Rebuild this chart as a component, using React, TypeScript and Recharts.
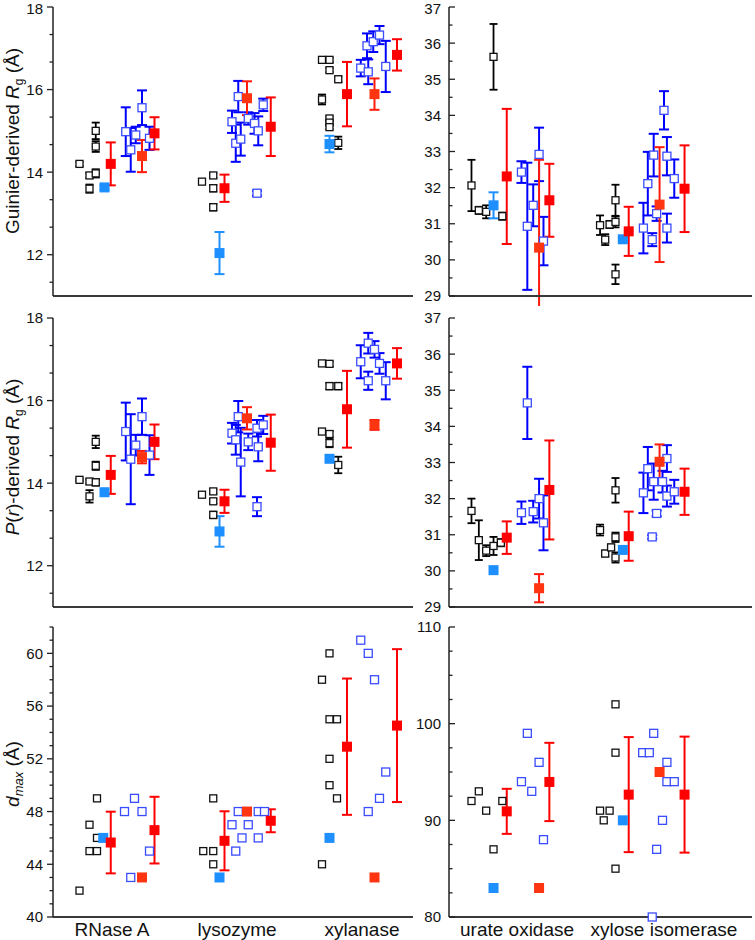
import React from "react";
import { ScatterChart, Scatter, XAxis, YAxis, ErrorBar } from "recharts";

const FONT = '"Liberation Sans", Arial, sans-serif';

const smallProteins = ["RNase A", "lysozyme", "xylanase"];
const largeProteins = ["urate oxidase", "xylose isomerase"];

// every point: [x slot (category number + jitter), value, error]

// --- Guinier Rg, small proteins
const guinierSmallBlack = [
  [0.74, 14.2, 0.05], [0.82, 13.92, 0.06], [0.82, 13.6, 0.1], [0.87, 15.0, 0.2], [0.87, 14.62, 0.13], [0.87, 13.97, 0.1],
  [1.72, 13.77, 0.06], [1.81, 13.92, 0.06], [1.81, 13.61, 0.08], [1.81, 13.15, 0.08],
  [2.68, 16.72, 0.05], [2.74, 16.72, 0.05], [2.74, 16.47, 0.05], [2.81, 16.25, 0.07], [2.68, 15.76, 0.12],
  [2.74, 15.3, 0.05], [2.74, 15.2, 0.05], [2.74, 15.09, 0.05], [2.81, 14.71, 0.15],
];
const guinierSmallSky = [[0.94, 13.63, 0.05], [1.86, 12.04, 0.51], [2.74, 14.68, 0.2]];
const guinierSmallMean1 = [[0.99, 14.2, 0.52], [1.9, 13.61, 0.33], [2.88, 15.89, 0.78]];
const guinierSmallBlue = [
  [1.11, 14.98, 0.59], [1.15, 14.54, 0.53], [1.19, 14.9, 0.2], [1.24, 15.56, 0.42], [1.3, 14.82, 0.28],
  [1.96, 15.22, 0.27], [1.99, 14.7, 0.45], [2.01, 15.83, 0.38], [2.03, 14.8, 0.4], [2.09, 15.3, 0.15],
  [2.14, 15.18, 0.25], [2.17, 15.0, 0.35], [2.21, 15.63, 0.15], [2.16, 13.49, 0.06],
  [2.99, 16.52, 0.2], [3.05, 16.43, 0.3], [3.04, 17.06, 0.3], [3.09, 17.16, 0.25], [3.14, 17.32, 0.22], [3.19, 16.56, 0.62],
];
const guinierSmallOrange = [[1.24, 14.39, 0.39], [2.08, 15.79, 0.41], [3.1, 15.89, 0.38]];
const guinierSmallMean2 = [[1.34, 14.94, 0.39], [2.27, 15.1, 0.71], [3.28, 16.84, 0.38]];

// --- Guinier Rg, large proteins
const guinierLargeBlack = [
  [0.69, 32.06, 0.71], [0.74, 31.37, 0.1], [0.79, 31.33, 0.18], [0.84, 35.62, 0.91], [0.9, 31.21, 0.1],
  [1.565, 30.96, 0.27], [1.6, 30.56, 0.15], [1.63, 30.98, 0.1], [1.67, 31.65, 0.43], [1.67, 31.05, 0.15], [1.67, 29.6, 0.27],
];
const guinierLargeSky = [[0.84, 31.51, 0.36], [1.72, 30.57, 0.05]];
const guinierLargeMean1 = [[0.93, 32.31, 1.87], [1.76, 30.79, 0.68]];
const guinierLargeBlue = [
  [1.03, 32.43, 0.3], [1.07, 30.93, 1.76], [1.11, 31.51, 0.58], [1.15, 32.92, 0.74], [1.18, 30.52, 0.67],
  [1.86, 30.88, 0.7], [1.89, 32.11, 0.88], [1.92, 30.56, 0.18], [1.93, 32.9, 0.59], [1.95, 31.28, 0.2],
  [2.0, 34.14, 0.53], [2.02, 30.88, 0.4], [2.02, 32.87, 0.53], [2.07, 32.25, 0.53],
];
const guinierLargeOrange = [[1.15, 30.34, 2.43], [1.97, 31.53, 1.59]];
const guinierLargeMean2 = [[1.22, 31.65, 1.01], [2.14, 31.97, 1.2]];

// --- P(r) Rg, small proteins
const prSmallBlack = [
  [0.74, 14.08, 0.03], [0.82, 14.04, 0.05], [0.82, 13.68, 0.15], [0.87, 15.0, 0.15], [0.87, 14.42, 0.1], [0.87, 14.02, 0.08],
  [1.72, 13.72, 0.06], [1.81, 13.8, 0.05], [1.81, 13.56, 0.05], [1.81, 13.23, 0.08],
  [2.68, 16.9, 0.05], [2.74, 16.89, 0.06], [2.74, 16.35, 0.08], [2.81, 16.35, 0.08], [2.68, 15.25, 0.06],
  [2.74, 15.19, 0.07], [2.74, 14.97, 0.1], [2.81, 14.44, 0.2],
];
const prSmallSky = [[0.94, 13.78, 0], [1.86, 12.83, 0.37], [2.74, 14.59, 0]];
const prSmallMean1 = [[0.99, 14.2, 0.46], [1.9, 13.56, 0.28], [2.88, 15.79, 0.93]];
const prSmallBlue = [
  [1.11, 15.25, 0.7], [1.15, 14.58, 1.09], [1.19, 14.92, 0.25], [1.24, 15.61, 0.44], [1.3, 14.68, 0.48],
  [1.96, 15.21, 0.25], [1.99, 15.05, 0.36], [2.01, 15.61, 0.38], [2.03, 14.51, 0.83], [2.09, 15.0, 0.2],
  [2.16, 15.33, 0.2], [2.17, 14.88, 0.35], [2.21, 15.41, 0.22], [2.16, 13.43, 0.23],
  [2.99, 16.94, 0.4], [3.05, 17.39, 0.25], [3.05, 16.48, 0.22], [3.1, 17.24, 0.2], [3.14, 16.9, 0.25], [3.19, 16.48, 0.45],
];
const prSmallOrange = [[1.24, 14.63, 0.15], [2.08, 15.57, 0.27], [3.1, 15.41, 0.12]];
const prSmallMean2 = [[1.34, 15.0, 0.42], [2.27, 14.98, 0.68], [3.28, 16.9, 0.37]];

// --- P(r) Rg, large proteins
const prLargeBlack = [
  [0.69, 31.66, 0.34], [0.74, 30.85, 0.55], [0.79, 30.56, 0.15], [0.84, 30.69, 0.25], [0.89, 30.78, 0.1],
  [1.565, 31.13, 0.15], [1.6, 30.48, 0.08], [1.64, 30.65, 0.08], [1.67, 32.23, 0.34], [1.67, 30.93, 0.13], [1.67, 30.37, 0.14],
];
const prLargeSky = [[0.84, 30.02, 0], [1.72, 30.58, 0]];
const prLargeMean1 = [[0.93, 30.92, 0.45], [1.76, 30.96, 0.68]];
const prLargeBlue = [
  [1.03, 31.61, 0.31], [1.07, 34.65, 1.0], [1.11, 31.64, 0.3], [1.15, 32.0, 0.55], [1.18, 31.33, 0.76],
  [1.86, 32.16, 0.56], [1.89, 32.83, 0.6], [1.92, 30.94, 0.05], [1.93, 32.47, 0.5], [1.95, 31.59, 0.08],
  [1.99, 32.47, 0.3], [2.02, 33.11, 0.37], [2.02, 32.07, 0.29], [2.07, 32.19, 0.33],
];
const prLargeOrange = [[1.15, 29.52, 0.39], [1.97, 33.02, 0.48]];
const prLargeMean2 = [[1.22, 32.24, 1.37], [2.14, 32.19, 0.64]];

// --- dmax, small proteins
const dmaxSmallBlack = [
  [0.74, 42], [0.82, 45], [0.82, 47], [0.88, 45], [0.88, 46], [0.88, 49],
  [1.73, 45], [1.81, 45], [1.81, 44], [1.81, 49],
  [2.68, 58], [2.74, 60], [2.74, 55], [2.8, 55], [2.74, 52], [2.74, 50], [2.8, 49], [2.68, 44],
];
const dmaxSmallSky = [[0.93, 46], [1.86, 43], [2.74, 46]];
const dmaxSmallMean1 = [[0.99, 45.65, 2.34], [1.9, 45.78, 2.24], [2.88, 52.92, 5.17]];
const dmaxSmallBlue = [
  [1.1, 48], [1.15, 43], [1.18, 49], [1.24, 48], [1.3, 45],
  [1.96, 47], [1.99, 45], [2.01, 48], [2.04, 46], [2.09, 47], [2.17, 48], [2.17, 46], [2.22, 48],
  [2.99, 61], [3.05, 60], [3.1, 58], [3.19, 51], [3.14, 49], [3.05, 48],
];
const dmaxSmallOrange = [[1.24, 43], [2.08, 48], [3.1, 43]];
const dmaxSmallMean2 = [[1.34, 46.59, 2.53], [2.27, 47.3, 0.87], [3.28, 54.52, 5.8]];

// --- dmax, large proteins
const dmaxLargeBlack = [
  [0.69, 92], [0.74, 93], [0.79, 91], [0.84, 87], [0.9, 92],
  [1.565, 91], [1.59, 90], [1.63, 91], [1.67, 102], [1.67, 97], [1.67, 85],
];
const dmaxLargeSky = [[0.84, 83], [1.72, 90]];
const dmaxLargeMean1 = [[0.93, 90.93, 2.33], [1.76, 92.66, 5.95]];
const dmaxLargeBlue = [
  [1.03, 94], [1.07, 99], [1.1, 93], [1.15, 96], [1.18, 88],
  [1.855, 97], [1.9, 97], [1.93, 99], [1.95, 87], [1.99, 90], [2.02, 96], [2.02, 94], [2.07, 94], [1.92, 80],
];
const dmaxLargeOrange = [[1.15, 83], [1.97, 95]];
const dmaxLargeMean2 = [[1.22, 93.97, 4.05], [2.14, 92.66, 6.0]];

const STYLES: Record<string, any> = {
  black: { size: 7, fill: "#fff", stroke: "#111", sw: 1.3, bar: "#000", cap: 4, bw: 1.8 },
  blue: { size: 8, fill: "#fff", stroke: "#3a4cff", sw: 1.3, bar: "#0000ff", cap: 5, bw: 2 },
  sky: { size: 10, fill: "#1e8fff", stroke: "#1e8fff", sw: 0, bar: "#1e90ff", cap: 5, bw: 2 },
  orange: { size: 10, fill: "#ff3512", stroke: "#ff3512", sw: 0, bar: "#ff1a0a", cap: 5, bw: 2 },
  mean: { size: 10, fill: "#ff0000", stroke: "#ff0000", sw: 0, bar: "#ff0000", cap: 5, bw: 2 },
};

const rows = (pts: number[][]) => pts.map(([x, y, e]) => ({ x, y, e: e ?? 0 }));

const square = (st: any) => (props: any) => {
  const { cx, cy } = props;
  if (cx == null || cy == null) return <g />;
  const h = st.size / 2;
  return <rect x={cx - h} y={cy - h} width={st.size} height={st.size} fill={st.fill} stroke={st.sw ? st.stroke : "none"} strokeWidth={st.sw} />;
};

const range = (a: number, b: number, step: number) => {
  const out: number[] = [];
  for (let v = a; v <= b + 1e-9; v += step) out.push(Math.round(v * 1000) / 1000);
  return out;
};

function Panel(props: any) {
  const { left, top, width, height, marginTop, yWidth, right, bottomH, xDomain, yDomain, ticks, majors, inward, gap, cats, showCats, series, clip } = props;
  const yTick = (p: any) => {
    const v = p.payload.value;
    const major = majors.some((m: number) => Math.abs(m - v) < 1e-6);
    const len = major ? 6 : 3.5;
    // keep the top label inside the page
    const ty = Math.max(p.y, 9);
    return (
      <g>
        <line x1={p.x} y1={p.y} x2={inward ? p.x + len : p.x - len} y2={p.y} stroke="#222" strokeWidth={1.3} />
        {major && (
          <text x={p.x - gap} y={ty} dy="0.36em" textAnchor="end" fontSize={15} fontFamily={FONT} fill="#111">
            {v}
          </text>
        )}
      </g>
    );
  };
  const catTick = (p: any) => (
    <text x={p.x} y={p.y} dy="0.71em" textAnchor="middle" fontSize={19} fontFamily={FONT} fill="#111">
      {cats[Math.round(p.payload.value) - 1]}
    </text>
  );
  return (
    <div style={{ position: "absolute", left, top }}>
      <ScatterChart width={width} height={height} margin={{ top: marginTop, right, left: 0, bottom: 0 }}>
        <XAxis
          type="number"
          dataKey="x"
          domain={xDomain}
          ticks={cats.map((_: string, i: number) => i + 1)}
          interval={0}
          tick={showCats ? catTick : false}
          tickLine={false}
          tickSize={0}
          tickMargin={6}
          height={bottomH}
          axisLine={{ stroke: "#3a3a3a", strokeWidth: 2 }}
        />
        <YAxis
          type="number"
          dataKey="y"
          domain={yDomain}
          allowDataOverflow={clip}
          ticks={ticks}
          interval={0}
          tick={yTick}
          tickLine={false}
          tickSize={0}
          tickMargin={0}
          width={yWidth}
          axisLine={{ stroke: "#222", strokeWidth: 1.5 }}
        />
        {series.map((s: any, i: number) => {
          const st = STYLES[s.kind];
          const hasErr = s.pts.some((p: number[]) => p.length > 2);
          return (
            <Scatter key={i} data={rows(s.pts)} shape={square(st)} isAnimationActive={false}>
              {hasErr && (
                <ErrorBar dataKey="e" direction="y" width={st.cap} stroke={st.bar} strokeWidth={st.bw} isAnimationActive={false} />
              )}
            </Scatter>
          );
        })}
      </ScatterChart>
    </div>
  );
}

const group = (black: any, blue: any, sky: any, orange: any, mean1: any, mean2: any) => [
  { kind: "black", pts: black },
  { kind: "blue", pts: blue },
  { kind: "sky", pts: sky },
  { kind: "orange", pts: orange },
  { kind: "mean", pts: mean1 },
  { kind: "mean", pts: mean2 },
];

const rgSmallTicks = [11.333, 12, 12.667, 13.333, 14, 14.667, 15.333, 16, 16.667, 17.333, 18];
const rgSmallMajors = [12, 14, 16, 18];
const rgLargeTicks = range(29, 37, 0.5);
const rgLargeMajors = range(29, 37, 1);
const dmaxSmallTicks = range(40, 62, 1);
const dmaxSmallMajors = range(40, 60, 4);
const dmaxLargeTicks = range(80, 110, 2.5);
const dmaxLargeMajors = range(80, 110, 10);

const LEFT = { left: 0, width: 420, yWidth: 53, right: 7, xDomain: [0.528, 3.408], inward: false, gap: 10, cats: smallProteins };
const RIGHT = { left: 413, width: 342, yWidth: 36, right: 3, xDomain: [0.537, 2.599], inward: true, gap: 8, cats: largeProteins };

export default function App() {
  return (
    <div style={{ position: "absolute", left: 0, top: 0, width: 755, height: 940, background: "#fff" }}>
      <Panel {...LEFT} top={0} marginTop={7} height={306} bottomH={10} yDomain={[11, 18]} ticks={rgSmallTicks} majors={rgSmallMajors} clip
        series={group(guinierSmallBlack, guinierSmallBlue, guinierSmallSky, guinierSmallOrange, guinierSmallMean1, guinierSmallMean2)} />
      <Panel {...RIGHT} top={0} marginTop={7} height={306} bottomH={10} yDomain={[29, 37]} ticks={rgLargeTicks} majors={rgLargeMajors} clip
        series={group(guinierLargeBlack, guinierLargeBlue, guinierLargeSky, guinierLargeOrange, guinierLargeMean1, guinierLargeMean2)} />
      <Panel {...LEFT} top={305} marginTop={13} height={312} bottomH={10} yDomain={[11, 18]} ticks={rgSmallTicks} majors={rgSmallMajors} clip
        series={group(prSmallBlack, prSmallBlue, prSmallSky, prSmallOrange, prSmallMean1, prSmallMean2)} />
      <Panel {...RIGHT} top={305} marginTop={13} height={312} bottomH={10} yDomain={[29, 37]} ticks={rgLargeTicks} majors={rgLargeMajors} clip
        series={group(prLargeBlack, prLargeBlue, prLargeSky, prLargeOrange, prLargeMean1, prLargeMean2)} />
      <Panel {...LEFT} top={614} marginTop={13} height={326} bottomH={23} yDomain={[40, 62]} ticks={dmaxSmallTicks} majors={dmaxSmallMajors} clip={false} showCats
        series={group(dmaxSmallBlack, dmaxSmallBlue, dmaxSmallSky, dmaxSmallOrange, dmaxSmallMean1, dmaxSmallMean2)} />
      <Panel {...RIGHT} top={614} marginTop={13} height={326} bottomH={23} yDomain={[80, 110]} ticks={dmaxLargeTicks} majors={dmaxLargeMajors} clip={false} showCats
        series={group(dmaxLargeBlack, dmaxLargeBlue, dmaxLargeSky, dmaxLargeOrange, dmaxLargeMean1, dmaxLargeMean2)} />
      <svg width={755} height={940} style={{ position: "absolute", left: 0, top: 0, pointerEvents: "none" }}>
        <g fontFamily={FONT} fontSize={19} fill="#111">
          <text transform="translate(19,141) rotate(-90)" textAnchor="middle">
            Guinier-derived <tspan fontStyle="italic">R</tspan>
            <tspan fontSize={12} dy={4}>g</tspan>
            <tspan dy={-4}> (Å)</tspan>
          </text>
          <text transform="translate(19,457) rotate(-90)" textAnchor="middle">
            <tspan fontStyle="italic">P</tspan>(<tspan fontStyle="italic">r</tspan>)-derived <tspan fontStyle="italic">R</tspan>
            <tspan fontSize={12} dy={4}>g</tspan>
            <tspan dy={-4}> (Å)</tspan>
          </text>
          <text transform="translate(19,774) rotate(-90)" textAnchor="middle">
            <tspan fontStyle="italic">d</tspan>
            <tspan fontSize={13} fontStyle="italic" dy={4}>max</tspan>
            <tspan dy={-4}> (Å)</tspan>
          </text>
        </g>
      </svg>
    </div>
  );
}
